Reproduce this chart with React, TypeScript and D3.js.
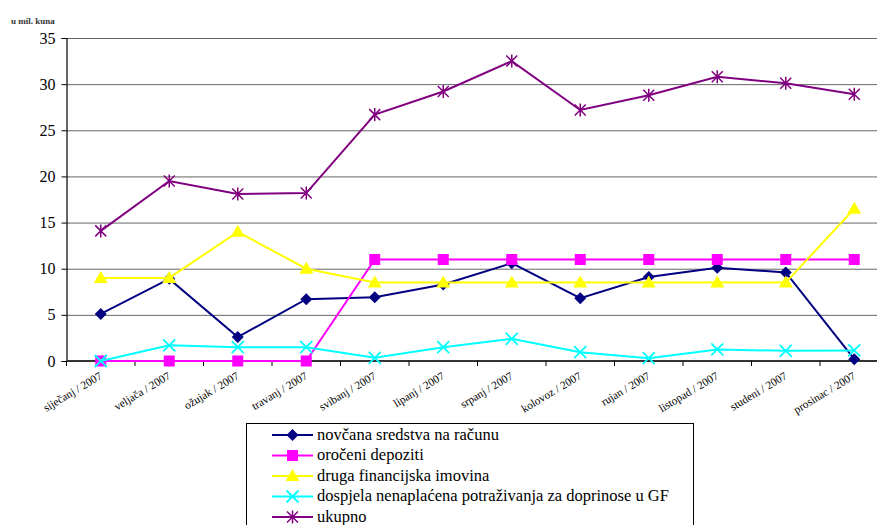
import React, { useEffect, useRef } from 'react';
import * as d3 from 'd3';

const months = [
  'siječanj / 2007', 'veljača / 2007', 'ožujak / 2007', 'travanj / 2007',
  'svibanj / 2007', 'lipanj / 2007', 'srpanj / 2007', 'kolovoz / 2007',
  'rujan / 2007', 'listopad / 2007', 'studeni / 2007', 'prosinac / 2007',
];

const novcana = [5.1, 8.9, 2.6, 6.7, 6.9, 8.3, 10.6, 6.8, 9.1, 10.1, 9.6, 0.2];
const oroceni = [0, 0, 0, 0, 11, 11, 11, 11, 11, 11, 11, 11];
const druga = [9.0, 9.0, 14.0, 10.0, 8.5, 8.5, 8.5, 8.5, 8.5, 8.5, 8.5, 16.5];
const dospjela = [0, 1.7, 1.5, 1.5, 0.35, 1.5, 2.4, 0.95, 0.3, 1.25, 1.1, 1.15];
const ukupno = [14.1, 19.5, 18.1, 18.2, 26.7, 29.2, 32.5, 27.2, 28.8, 30.8, 30.1, 28.9];

const yTicks = [0, 5, 10, 15, 20, 25, 30, 35];

const seriesList = [
  { name: 'novčana sredstva na računu', values: novcana, color: '#000080', marker: 'diamond' },
  { name: 'oročeni depoziti', values: oroceni, color: '#ff00ff', marker: 'square' },
  { name: 'druga financijska imovina', values: druga, color: '#ffff00', marker: 'triangle' },
  { name: 'dospjela nenaplaćena potraživanja za doprinose u GF', values: dospjela, color: '#00ffff', marker: 'x' },
  { name: 'ukupno', values: ukupno, color: '#800080', marker: 'star' },
];

const FONT = "'Liberation Serif', 'DejaVu Serif', serif";

const drawMarker = (g: any, type: string, x: number, y: number, color: string) => {
  if (type === 'diamond') {
    const s = 6;
    g.append('path').attr('d', `M${x},${y - s}L${x + s},${y}L${x},${y + s}L${x - s},${y}Z`).attr('fill', color);
  } else if (type === 'square') {
    g.append('rect').attr('x', x - 5.5).attr('y', y - 5.5).attr('width', 11).attr('height', 11).attr('fill', color);
  } else if (type === 'triangle') {
    g.append('path').attr('d', `M${x},${y - 7}L${x + 7},${y + 5}L${x - 7},${y + 5}Z`).attr('fill', color);
  } else if (type === 'x') {
    const s = 6;
    g.append('path').attr('d', `M${x - s},${y - s}L${x + s},${y + s}M${x - s},${y + s}L${x + s},${y - s}`)
      .attr('stroke', color).attr('stroke-width', 1.8).attr('fill', 'none');
  } else {
    const s = 5.5;
    g.append('path').attr('d', `M${x - s},${y - s}L${x + s},${y + s}M${x - s},${y + s}L${x + s},${y - s}M${x},${y - s - 1}L${x},${y + s + 1}`)
      .attr('stroke', color).attr('stroke-width', 1.5).attr('fill', 'none');
  }
};

export default function App() {
  const svgRef = useRef<SVGSVGElement>(null);

  useEffect(() => {
    if (!svgRef.current) return;
    const svg = d3.select(svgRef.current);
    svg.selectAll('*').remove();

    const left = 66.5;
    const right = 888.5;
    const top = 38;
    const bottom = 361;

    const x = d3.scaleBand().domain(months).range([left, right]);
    const y = d3.scaleLinear().domain([0, 35]).range([bottom, top]);
    const cx = (i: number) => (x(months[i]) || 0) + x.bandwidth() / 2;

    // unit label
    svg.append('text').attr('x', 11).attr('y', 24).attr('font-size', 9).attr('font-weight', 'bold')
      .attr('fill', '#333').text('u mil. kuna');

    // gridlines
    svg.append('g')
      .attr('transform', `translate(${left},0)`)
      .call(d3.axisLeft(y).tickValues(yTicks).tickSize(-(right - left)).tickFormat(() => ''))
      .call((g: any) => g.select('.domain').remove())
      .selectAll('line').attr('stroke', '#666').attr('stroke-width', 1);

    // y axis
    const yAxis = svg.append('g')
      .attr('transform', `translate(${left},0)`)
      .call(d3.axisLeft(y).tickValues(yTicks).tickSize(5).tickPadding(6))
      .attr('font-family', null)
      .attr('font-size', null);
    yAxis.select('.domain').attr('stroke', '#000').attr('stroke-width', 1.2);
    yAxis.selectAll('line').attr('stroke', '#000');
    yAxis.selectAll('text').attr('font-size', 16).attr('fill', '#000');

    // x axis
    const xAxis = svg.append('g').attr('transform', `translate(0,${bottom})`);
    xAxis.append('line').attr('x1', left).attr('x2', right).attr('stroke', '#333').attr('stroke-width', 2);
    xAxis.selectAll('.tk')
      .data(d3.range(months.length + 1))
      .enter()
      .append('line')
      .attr('x1', (i: number) => left + i * x.step())
      .attr('x2', (i: number) => left + i * x.step())
      .attr('y1', 0).attr('y2', 5).attr('stroke', '#000');
    xAxis.selectAll('.lbl')
      .data(months)
      .enter()
      .append('text')
      .attr('font-size', 11.3).attr('fill', '#000')
      .attr('text-anchor', 'end')
      .attr('transform', (_d: string, i: number) => `translate(${cx(i) + 2},${17}) rotate(-31)`)
      .text((d: string) => d);

    // series
    seriesList.forEach((s) => {
      const line = d3.line<number>().x((_d, i) => cx(i)).y((d) => y(d));
      svg.append('path').datum(s.values).attr('d', line).attr('fill', 'none')
        .attr('stroke', s.color).attr('stroke-width', 2);
      const mg = svg.append('g');
      s.values.forEach((v, i) => drawMarker(mg, s.marker, cx(i), y(v), s.color));
    });

    // legend (box runs past the bottom edge, as in the source)
    const lg = svg.append('g');
    lg.append('rect').attr('x', 246.5).attr('y', 423.5).attr('width', 447).attr('height', 120)
      .attr('fill', '#fff').attr('stroke', '#000').attr('stroke-width', 1);
    seriesList.forEach((s, i) => {
      const ly = 435 + i * 20.5;
      lg.append('line').attr('x1', 272).attr('x2', 313).attr('y1', ly).attr('y2', ly)
        .attr('stroke', s.color).attr('stroke-width', 2);
      drawMarker(lg, s.marker, 292.5, ly, s.color);
      lg.append('text').attr('x', 317).attr('y', ly + 4.5)
        .attr('font-size', 16.5).attr('fill', '#000').text(s.name);
    });
  }, []);

  return (
    <svg
      ref={svgRef}
      width={877}
      height={525}
      style={{ position: 'absolute', left: 0, top: 0, background: '#fff', display: 'block', fontFamily: FONT }}
    />
  );
}
